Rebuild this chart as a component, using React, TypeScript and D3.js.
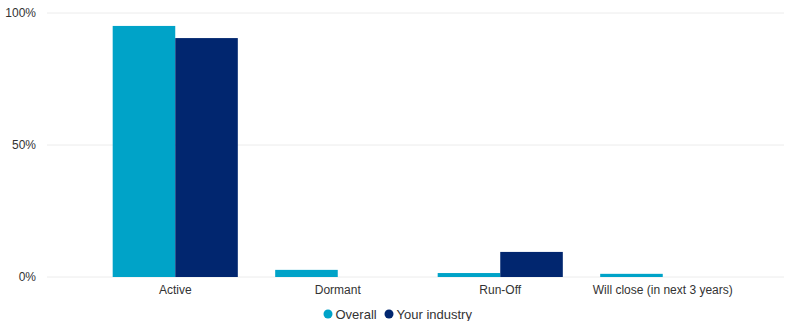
import React from "react";
import * as d3 from "d3";

const categories = ["Active", "Dormant", "Run-Off", "Will close (in next 3 years)"];
const seriesNames = ["Overall", "Your industry"];
const overall = [95.1, 2.7, 1.5, 1.2];
const industry = [90.5, 0, 9.5, 0];
const yTicks = [0, 50, 100];
const colors = ["#00a3c8", "#01266f"];

export default function App() {
  const W = 794, H = 321;
  const x = d3.scaleBand<string>().domain(categories).range([94, 744]).paddingInner(0.23).paddingOuter(0.115);
  const y = d3.scaleLinear().domain([0, 100]).range([277, 13]);
  const sub = d3.scaleBand<string>().domain(seriesNames).range([0, x.bandwidth()]);
  const series = [overall, industry];
  const font = "Liberation Sans, Arial, sans-serif";
  return (
    <svg width={W} height={H} style={{ position: "absolute", left: 0, top: 0 }} fontFamily={font}>
      {yTicks.map((t) => (
        <g key={t}>
          <line x1={47} x2={784} y1={y(t)} y2={y(t)} stroke="#ececec" strokeWidth={1} />
          <text x={36} y={y(t)} dy="0.35em" textAnchor="end" fontSize={12} fill="#333">{t + "%"}</text>
        </g>
      ))}
      {categories.map((c, i) => (
        <g key={c}>
          {series.map((s, j) => (
            <rect key={j} x={(x(c) as number) + (sub(seriesNames[j]) as number)} width={sub.bandwidth()}
              y={y(s[i])} height={y(0) - y(s[i])} fill={colors[j]} />
          ))}
          <text x={(x(c) as number) + x.bandwidth() / 2} y={294} textAnchor="middle" fontSize={12} fill="#333">{c}</text>
        </g>
      ))}
      <g>
        <circle cx={328} cy={314} r={4.5} fill={colors[0]} />
        <text x={335.5} y={318.5} fontSize={13} fill="#333">{seriesNames[0]}</text>
        <circle cx={389} cy={314} r={4.5} fill={colors[1]} />
        <text x={396.5} y={318.5} fontSize={13} fill="#333">{seriesNames[1]}</text>
      </g>
    </svg>
  );
}
